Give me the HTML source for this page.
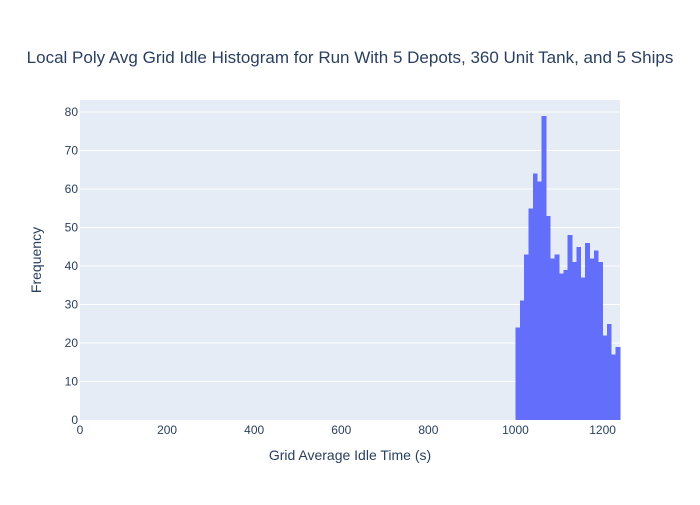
<!DOCTYPE html>
<html><head><meta charset="utf-8"><style>
body{margin:0;background:#fff;font-family:"Liberation Sans",sans-serif;}
</style></head><body>
<svg id="chart" width="700" height="500" xmlns="http://www.w3.org/2000/svg">
<rect width="700" height="500" fill="#fff"/>
<text x="350" y="63" text-anchor="middle" font-size="17" fill="#2a3f5f">Local Poly Avg Grid Idle Histogram for Run With 5 Depots, 360 Unit Tank, and 5 Ships</text>
<rect x="80" y="100" width="540" height="320" fill="#e5ecf6"/>
<g id="grid"></g><g id="bars" shape-rendering="crispEdges"></g><g id="ticks"></g>
<text x="350" y="460" text-anchor="middle" font-size="14" fill="#2a3f5f">Grid Average Idle Time (s)</text>
<text transform="translate(41,260) rotate(-90)" text-anchor="middle" font-size="14" fill="#2a3f5f">Frequency</text>
</svg>
<script>
const binStart = 1000;
const binWidth = 10;
const counts = [24,31,43,55,64,62,79,53,42,43,38,39,48,41,45,37,46,42,44,41,22,25,17,19];
const xTicks = [0,200,400,600,800,1000,1200];
const yTicks = [0,10,20,30,40,50,60,70,80];
const NS="http://www.w3.org/2000/svg";
const x = v => 80 + v*540/1240;
const y = v => 420 - v*(420-112)/80;
function mk(t,a){const e=document.createElementNS(NS,t);for(const k in a)e.setAttribute(k,a[k]);return e;}
const g=document.getElementById('grid'),b=document.getElementById('bars'),tk=document.getElementById('ticks');
yTicks.forEach(v=>{
  if(v>0){const l=mk('line',{x1:80,x2:620,y1:y(v),y2:y(v),stroke:'#fff','stroke-width':1});
  
  
  g.appendChild(l);}
  const t=mk('text',{x:78,y:y(v)+4,'text-anchor':'end','font-size':12,fill:'#2a3f5f'});
  t.textContent=v;
  
  
  tk.appendChild(t);
});
xTicks.forEach(v=>{
  const t=mk('text',{x:x(v),y:434,'text-anchor':'middle','font-size':12,fill:'#2a3f5f'});
  t.textContent=v;
  
  
  tk.appendChild(t);
});
counts.forEach((c,i)=>{
  const x0=x(binStart+i*binWidth),x1=x(binStart+(i+1)*binWidth);
  const r=mk('rect',{x:x0,y:y(c),width:x1-x0+0.3,height:y(0)-y(c),fill:'#636efa'});
  
  
  b.appendChild(r);
});
</script>
</body></html>
